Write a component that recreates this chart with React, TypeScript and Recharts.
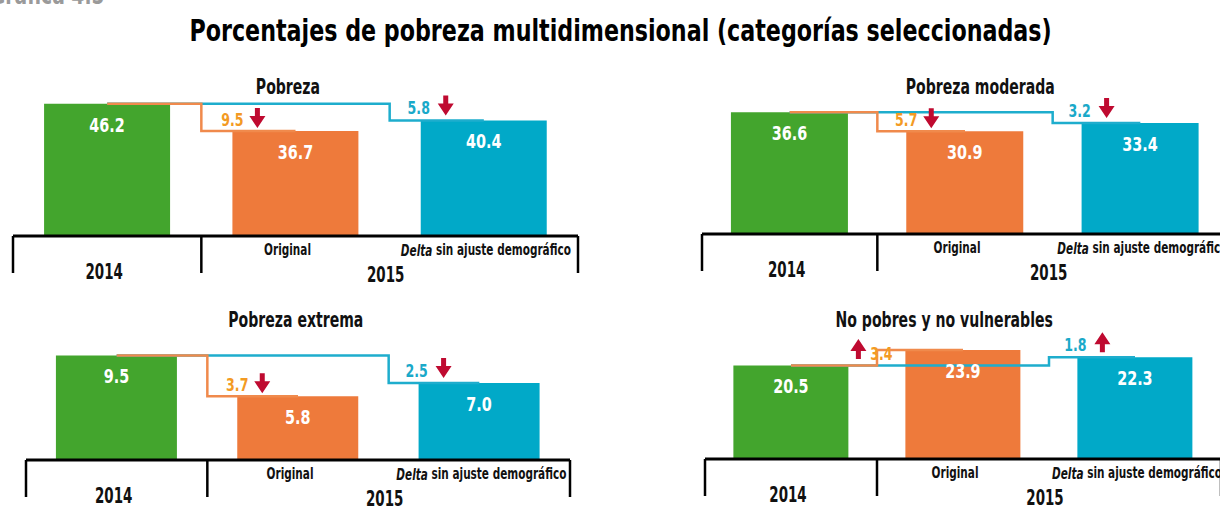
import React from "react";
import { ComposedChart, Bar, Line, XAxis, YAxis, Cell, LabelList } from "recharts";

const categorias = ["2014", "Original", "Delta sin ajuste demográfico"];

const pobreza = [46.2, 36.7, 40.4];
const pobrezaModerada = [36.6, 30.9, 33.4];
const pobrezaExtrema = [9.5, 5.8, 7.0];
const noPobres = [20.5, 23.9, 22.3];

// cambios respecto de 2014: [original, sin ajuste]
const deltaPobreza = [9.5, 5.8];
const deltaModerada = [5.7, 3.2];
const deltaExtrema = [3.7, 2.5];
const deltaNoPobres = [3.4, 1.8];

const FUENTE = "'DejaVu Sans', sans-serif";
const ANGOSTO = 0.7; // la fuente original es condensada
const COLORES = ["#43a52d", "#ee7a3b", "#01a9c8"];
const LINEA_ORIG = "#f08a4c";
const LINEA_SIN = "#1eadcd";
const TXT_ORIG = "#f39a23";
const TXT_SIN = "#1aa9c9";
const ROJO = "#bf0a30";

// texto svg estrechado horizontalmente
function TextoC({ x, y, s = ANGOSTO, children, ...rest }: any) {
  return (
    <g transform={`translate(${x},${y}) scale(${s},1)`}>
      <text x={0} y={0} textAnchor="middle" dominantBaseline="central" fontWeight="bold" {...rest}>
        {children}
      </text>
    </g>
  );
}

function Flecha({ x, top, abajo }: { x: number; top: number; abajo: boolean }) {
  const b = top + 20;
  const d = abajo
    ? `M${x - 2.5},${top} H${x + 2.5} V${top + 8} H${x + 8} L${x},${b} L${x - 8},${top + 8} H${x - 2.5} Z`
    : `M${x - 2.5},${b} H${x + 2.5} V${b - 8} H${x + 8} L${x},${top} L${x - 8},${b - 8} H${x - 2.5} Z`;
  return <path d={d} fill={ROJO} />;
}

function EjeTick(props: any) {
  const { x, y, payload, band } = props;
  const i = payload.index;
  const h = 37;
  const linea = (lx: number) => <line x1={lx} y1={y} x2={lx} y2={y + h} stroke="#000" strokeWidth={2.5} />;
  if (i === 0) {
    return (
      <g>
        {linea(x - band / 2)}
        <TextoC x={x - 3} y={y + 36} s={0.64} fontSize={21} fill="#111">{payload.value}</TextoC>
      </g>
    );
  }
  if (i === 1) {
    return (
      <g>
        {linea(x - band / 2)}
        <TextoC x={x - 8} y={y + 14} fontSize={15} fill="#111">{payload.value}</TextoC>
        <TextoC x={x + band / 2 - 4} y={y + 39} s={0.64} fontSize={21} fill="#111">2015</TextoC>
      </g>
    );
  }
  return (
    <g>
      {linea(x + band / 2)}
      <TextoC x={x + 2} y={y + 14} fontSize={15} fill="#111">
        <tspan fontStyle="italic">Delta</tspan> sin ajuste demográfico
      </TextoC>
    </g>
  );
}

type PanelProps = {
  titulo: string;
  valores: number[];
  deltas: number[];
  left: number;
  width: number;
  baseline: number;
  max: number;
  alto: number;
  tituloX: number;
  tituloY: number;
};

function Panel({ titulo, valores, deltas, left, width, baseline, max, alto, tituloX, tituloY }: PanelProps) {
  const mt = 40;
  const ejeH = 52;
  const band = width / categorias.length;
  const data = categorias.map((c, i) => ({
    cat: c,
    valor: valores[i],
    lineaOrig: i < 2 ? valores[i] : null,
    lineaSin: i === 2 ? valores[2] : valores[0],
  }));

  const renderValor = (p: any) => {
    const { x, y, width: w, value } = p;
    return (
      <TextoC x={x + w / 2} y={y + 21} s={0.72} fill="#fff" fontSize={20}>
        {Number(value).toFixed(1)}
      </TextoC>
    );
  };

  const renderDelta = (p: any) => {
    const { x, y, index } = p;
    if (index === 0) return null;
    const abajo = valores[index] < valores[0];
    if (index === 1) {
      const txt = deltas[0].toFixed(1);
      if (abajo) {
        return (
          <g>
            <TextoC x={x} y={y - 11} fill={TXT_ORIG} fontSize={18}>{txt}</TextoC>
            <Flecha x={x + 25} top={y - 23} abajo />
          </g>
        );
      }
      return (
        <g>
          <TextoC x={x - 24} y={y + 4} fill={TXT_ORIG} fontSize={18}>{txt}</TextoC>
          <Flecha x={x - 47} top={y - 11} abajo={false} />
        </g>
      );
    }
    const txt = deltas[1].toFixed(1);
    return (
      <g>
        <TextoC x={x - 2} y={y - 12} fill={TXT_SIN} fontSize={18}>{txt}</TextoC>
        <Flecha x={x + 25} top={y - 25} abajo={abajo} />
      </g>
    );
  };

  return (
    <>
      <div
        style={{
          position: "absolute",
          left: tituloX - 200,
          width: 400,
          top: tituloY - 13,
          textAlign: "center",
          fontSize: 21,
          fontWeight: "bold",
          color: "#111",
        }}
      >
        <span style={{ display: "inline-block", transform: "scaleX(0.67)" }}>{titulo}</span>
      </div>
      <div style={{ position: "absolute", left, top: baseline - alto - mt }}>
        <ComposedChart
          width={width}
          height={mt + alto + ejeH}
          data={data}
          margin={{ top: mt, right: 0, left: 0, bottom: 0 }}
          barCategoryGap="16.5%"
          style={{ fontFamily: FUENTE }}
        >
          <XAxis
            dataKey="cat"
            height={ejeH}
            axisLine={{ stroke: "#000", strokeWidth: 3 }}
            tickLine={false}
            tickSize={0}
            tickMargin={0}
            interval={0}
            tick={<EjeTick band={band} />}
          />
          <YAxis hide domain={[0, max]} />
          <Bar dataKey="valor" isAnimationActive={false}>
            {data.map((d, i) => (
              <Cell key={d.cat} fill={COLORES[i]} />
            ))}
            <LabelList dataKey="valor" content={renderValor} />
            <LabelList dataKey="valor" content={renderDelta} />
          </Bar>
          <Line dataKey="lineaSin" type="step" stroke={LINEA_SIN} strokeWidth={2.5} dot={false} activeDot={false} isAnimationActive={false} />
          <Line dataKey="lineaOrig" type="step" stroke={LINEA_ORIG} strokeWidth={2.5} dot={false} activeDot={false} isAnimationActive={false} />
        </ComposedChart>
      </div>
    </>
  );
}

export default function App() {
  return (
    <div
      style={{
        position: "absolute",
        left: 0,
        top: 0,
        width: 1220,
        height: 507,
        overflow: "hidden",
        background: "#fff",
        fontFamily: FUENTE,
      }}
    >
      <style>{`.recharts-surface { overflow: visible; }`}</style>
      <div style={{ position: "absolute", left: -10, top: -20, fontSize: 26, fontWeight: "bold", color: "#9a9a9a" }}>
        <span style={{ display: "inline-block", transform: "scaleX(0.72)", transformOrigin: "left" }}>Gráfica 4.5</span>
      </div>
      <div
        style={{
          position: "absolute",
          left: 0,
          width: 1242,
          top: 13,
          textAlign: "center",
          fontSize: 30,
          fontWeight: "bold",
          color: "#000",
        }}
      >
        <span style={{ display: "inline-block", transform: "scaleX(0.74)" }}>
          Porcentajes de pobreza multidimensional (categorías seleccionadas)
        </span>
      </div>
      <Panel titulo="Pobreza" valores={pobreza} deltas={deltaPobreza} left={13} width={565} baseline={236} max={50} alto={143} tituloX={288} tituloY={88} />
      <Panel titulo="Pobreza moderada" valores={pobrezaModerada} deltas={deltaModerada} left={702} width={526} baseline={234} max={40} alto={133} tituloX={980} tituloY={88} />
      <Panel titulo="Pobreza extrema" valores={pobrezaExtrema} deltas={deltaExtrema} left={26} width={544} baseline={460} max={10} alto={110} tituloX={296} tituloY={321} />
      <Panel titulo="No pobres y no vulnerables" valores={noPobres} deltas={deltaNoPobres} left={705} width={516} baseline={459} max={25} alto={114} tituloX={944} tituloY={321} />
    </div>
  );
}
